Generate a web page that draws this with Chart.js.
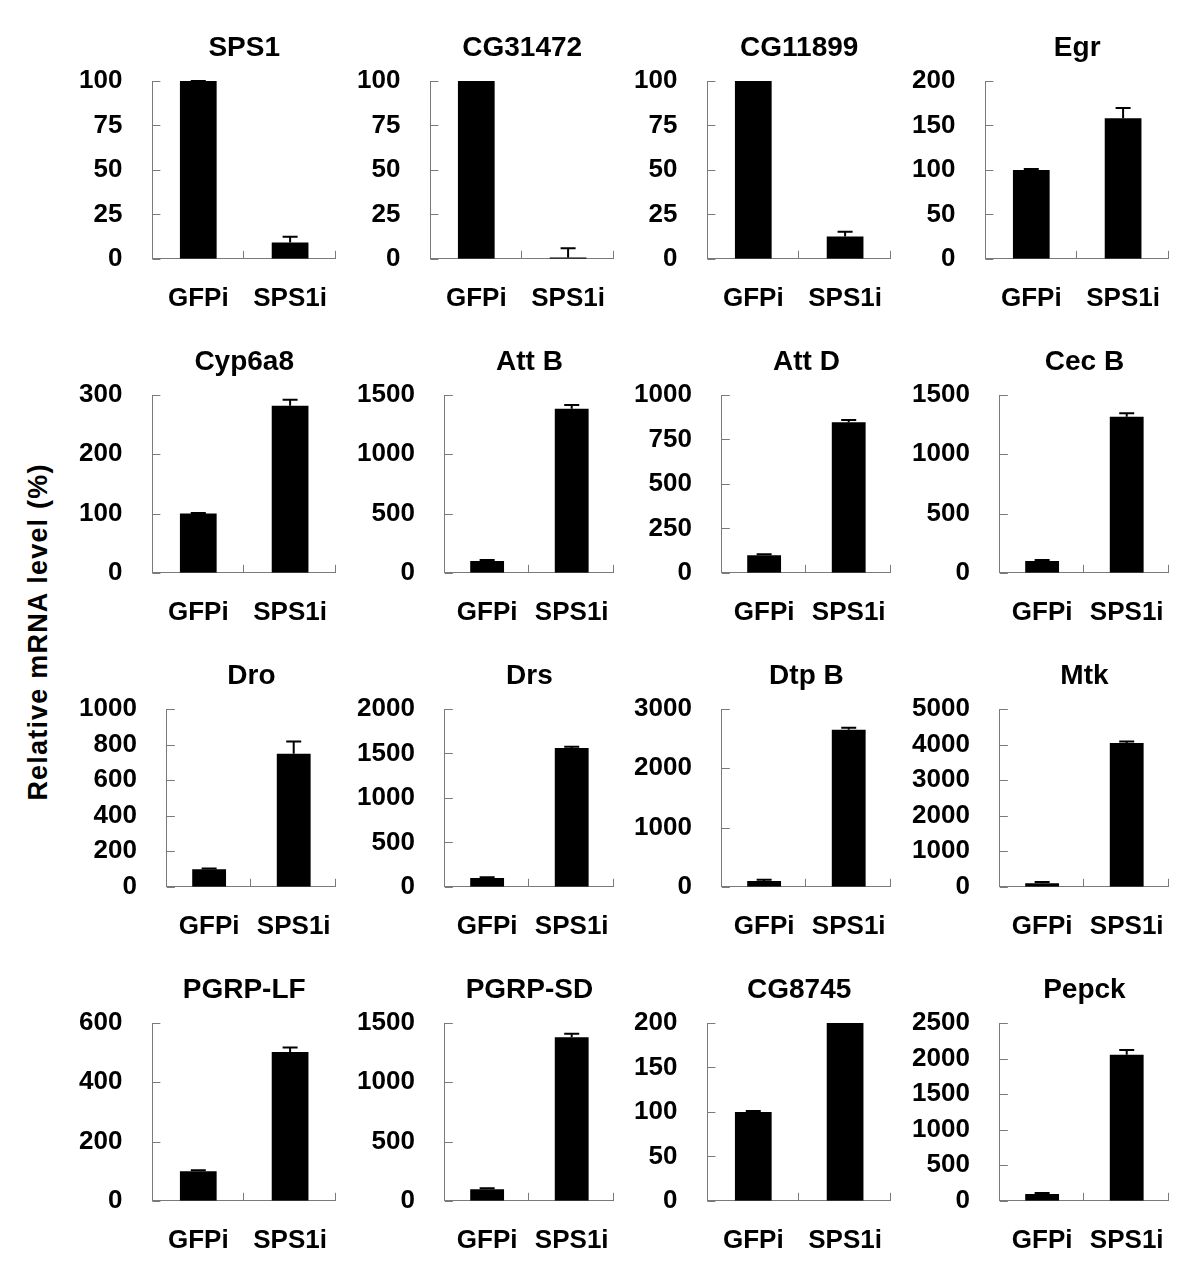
<!DOCTYPE html>
<html>
<head>
<meta charset="utf-8">
<title>Relative mRNA level</title>
<script src="https://cdn.jsdelivr.net/npm/chart.js@4.4.1/dist/chart.umd.min.js"></script>
<style>
  body {
    margin: 0;
    background: #fff;
    width: 1200px;
    height: 1268px;
    position: relative;
    overflow: hidden;
    font-family: "Liberation Sans", Arial, sans-serif;
  }
  .panel {
    position: absolute;
  }
  #yTitle {
    position: absolute;
    left: 38px;
    top: 632px;
    transform: translate(-50%, -50%) rotate(-90deg);
    white-space: nowrap;
    font-weight: bold;
    font-size: 27px;
    letter-spacing: 1.2px;
    color: #000;
  }
</style>
</head>
<body>
<div id="yTitle">Relative mRNA level (%)</div>
<div id="grid"></div>

<script>
// ---- data ----
const genes = [
  "SPS1", "CG31472", "CG11899", "Egr",
  "Cyp6a8", "Att B", "Att D", "Cec B",
  "Dro", "Drs", "Dtp B", "Mtk",
  "PGRP-LF", "PGRP-SD", "CG8745", "Pepck"
];
const groups = ["GFPi", "SPS1i"];

const gfpMeans  = [100, 100, 100, 100,  100, 100, 99, 100,  99, 100, 97, 103,  100, 98, 100, 96];
const gfpErrors = [0.3, 0, 0, 1,        1, 8, 5, 8,         4, 8, 22, 30,      3, 8, 1, 14];
const rnaiMeans  = [9.2, 0.7, 12.6, 158,  282, 1385, 847, 1316,  749, 1560, 2648, 4042,  502, 1380, 200, 2053];
const rnaiErrors = [3.2, 5.2, 2.6, 11.6,  10, 30, 13, 30,        68, 14, 34, 45,         15, 30, 0, 66];

const axisMax  = [100, 100, 100, 200,  300, 1500, 1000, 1500,  1000, 2000, 3000, 5000,  600, 1500, 200, 2500];
const axisStep = [25, 25, 25, 50,      100, 500, 250, 500,     200, 500, 1000, 1000,    200, 500, 50, 500];

const AXIS_GREY = "#7a7a7a";
const FONT = "'Liberation Sans', Arial, sans-serif";
const TICK_PAD = 30;          // Chart.js reserves this on both sides of the labels
const PANEL_W = 257 + TICK_PAD;
const PANEL_H = 318;

// Chart.js reserves room for half of the outer labels; the panels here don't need it
function noEdgePadding(scale) {
  scale.paddingLeft = 0;
  scale.paddingRight = 0;
  scale.paddingTop = 0;
  scale.paddingBottom = 0;
}

// title, error bars and the inward tick marks
const panelDecor = {
  id: "panelDecor",
  afterDatasetsDraw(chart, args, opts) {
    const { ctx, chartArea } = chart;
    const x = chart.scales.x;
    const y = chart.scales.y;
    const meta = chart.getDatasetMeta(0);
    const values = chart.data.datasets[0].data;

    ctx.save();

    // error bars (upper half only)
    ctx.strokeStyle = "#000";
    ctx.lineWidth = 2;
    opts.errors.forEach((err, i) => {
      if (!err) return;
      const cx = meta.data[i].x;
      const yBar = y.getPixelForValue(values[i]);
      const yTop = y.getPixelForValue(Math.min(values[i] + err, y.max));
      ctx.beginPath();
      ctx.moveTo(cx, yBar);
      ctx.lineTo(cx, yTop);
      ctx.moveTo(cx - 7.5, yTop);
      ctx.lineTo(cx + 7.5, yTop);
      ctx.stroke();
    });

    // tick marks pointing into the plot
    ctx.strokeStyle = AXIS_GREY;
    ctx.lineWidth = 1;
    ctx.beginPath();
    y.ticks.forEach((t) => {
      const py = Math.round(y.getPixelForValue(t.value)) + 0.5;
      ctx.moveTo(chartArea.left, py);
      ctx.lineTo(chartArea.left + 8, py);
    });
    [0.5, 1.5].forEach((v) => {
      const px = Math.round(x.getPixelForValue(v)) - 0.5;
      ctx.moveTo(px, chartArea.bottom);
      ctx.lineTo(px, chartArea.bottom - 8);
    });
    ctx.stroke();

    // panel title, centred over the plot area
    ctx.fillStyle = "#000";
    ctx.font = "bold 28px " + FONT;
    ctx.textAlign = "center";
    ctx.textBaseline = "middle";
    ctx.fillText(opts.title, (chartArea.left + chartArea.right) / 2, 28);

    ctx.restore();
  }
};

function makePanel(i) {
  const col = i % 4;
  const row = Math.floor(i / 4);

  const canvas = document.createElement("canvas");
  canvas.className = "panel";
  canvas.width = PANEL_W;
  canvas.height = PANEL_H;
  canvas.style.width = PANEL_W + "px";
  canvas.style.height = PANEL_H + "px";
  canvas.style.left = Math.round(79 - TICK_PAD + col * 277.7) + "px";
  canvas.style.top = (20 + row * 314) + "px";
  document.getElementById("grid").appendChild(canvas);

  new Chart(canvas, {
    type: "bar",
    data: {
      labels: groups,
      datasets: [{
        data: [gfpMeans[i], rnaiMeans[i]],
        backgroundColor: "#000",
        borderWidth: 0,
        barPercentage: 0.4,
        categoryPercentage: 1.0
      }]
    },
    options: {
      responsive: false,
      animation: false,
      layout: { padding: { top: 61, bottom: 0, left: 0, right: 0 } },
      plugins: {
        legend: { display: false },
        tooltip: { enabled: false },
        panelDecor: { title: genes[i], errors: [gfpErrors[i], rnaiErrors[i]] }
      },
      scales: {
        x: {
          afterFit: noEdgePadding,
          grid: { display: false, drawTicks: false },
          border: { color: AXIS_GREY, width: 1 },
          ticks: {
            color: "#000",
            padding: 24,
            autoSkip: false,
            minRotation: 0,
            maxRotation: 0,
            font: { family: FONT, size: 26, weight: "bold" }
          }
        },
        y: {
          min: 0,
          max: axisMax[i],
          afterFit: noEdgePadding,
          grid: { display: false, drawTicks: false },
          border: { color: AXIS_GREY, width: 1 },
          ticks: {
            stepSize: axisStep[i],
            autoSkip: false,
            color: "#000",
            padding: TICK_PAD,
            font: { family: FONT, size: 26, weight: "bold" },
            callback: (v) => String(v)
          }
        }
      }
    },
    plugins: [panelDecor]
  });
}

genes.forEach((g, i) => makePanel(i));
</script>
</body>
</html>
